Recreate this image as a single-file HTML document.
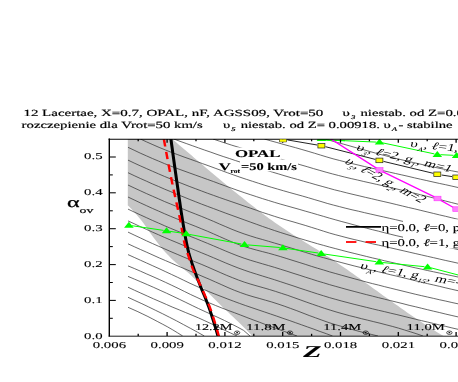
<!DOCTYPE html><html><head><meta charset="utf-8"><title>plot</title><style>html,body{margin:0;padding:0;background:#fff}svg{display:block}text{font-family:"Liberation Serif",serif;fill:#000;stroke:#000;stroke-width:0.1px;text-rendering:geometricPrecision}.tt{stroke-width:0.18px}.nl{stroke:none}.sb{stroke-width:0.15px}.sa{stroke-width:0.28px}</style></head><body>
<svg width="458" height="382" viewBox="0 0 458 382">
<rect width="458" height="382" fill="#fff"/>
<g opacity="0.999">
<defs><clipPath id="pc"><rect x="109.3" y="139.0" width="350.7" height="197.0"/></clipPath></defs>
<g clip-path="url(#pc)">
<polygon fill="#c6c6c6" points="127.8,130.0 167.1,134.6 170.1,137.2 173.1,139.7 176.1,142.3 179.1,144.9 182.1,147.4 185.1,150.0 188.1,152.6 191.1,155.1 194.1,157.7 197.1,160.2 200.1,162.8 203.1,165.3 206.1,167.9 209.1,170.4 212.1,172.9 215.1,175.5 218.1,178.0 221.1,180.5 224.1,183.0 227.1,185.4 230.1,187.9 233.1,190.4 236.1,192.8 239.1,195.2 242.1,197.6 245.1,200.0 248.1,202.4 251.1,204.7 254.1,207.1 257.1,209.4 260.1,211.7 263.1,213.9 266.1,216.2 269.1,218.4 272.1,220.5 275.1,222.7 278.1,224.8 281.1,226.8 284.1,228.8 287.1,230.8 290.1,232.8 293.1,234.7 296.1,236.6 299.1,238.4 302.1,240.3 305.1,242.2 308.1,244.0 311.1,245.9 314.1,247.7 317.1,249.6 320.1,251.5 323.1,253.4 326.1,255.4 329.1,257.3 332.1,259.3 335.1,261.3 338.1,263.4 341.1,265.4 344.1,267.5 347.1,269.6 350.1,271.7 353.1,273.8 356.1,275.9 359.1,278.1 362.1,280.2 365.1,282.4 368.1,284.5 371.1,286.7 374.1,288.9 377.1,291.0 380.1,293.2 383.1,295.4 386.1,297.5 389.1,299.7 392.1,301.8 395.1,304.0 398.1,306.1 401.1,308.2 404.1,310.3 407.1,312.4 410.1,314.5 413.1,316.6 416.1,318.6 419.1,320.6 422.1,322.6 425.1,324.6 428.1,326.5 431.1,328.4 434.1,330.3 437.1,332.2 440.1,334.0 443.1,335.8 446.1,337.5 449.1,339.2 452.1,340.9 455.1,342.5 263.5,346.5 261.0,344.1 258.5,341.7 256.0,339.3 253.5,336.9 251.0,334.4 248.5,331.9 246.0,329.4 243.5,326.9 241.0,324.5 238.5,322.1 236.0,319.7 233.5,317.3 231.0,315.0 228.5,312.6 226.0,310.2 223.5,307.9 221.0,305.4 218.5,303.0 216.0,300.5 213.5,298.0 211.0,295.5 208.5,293.0 206.0,290.4 203.5,287.9 201.0,285.4 198.5,282.8 196.0,280.2 193.5,277.7 191.0,275.3 188.5,273.0 186.0,270.9 183.5,268.9 181.0,266.8 178.5,264.8 176.0,262.7 173.5,260.5 171.0,258.2 168.5,255.6 166.0,253.0 163.5,250.2 161.0,247.2 158.5,244.1 156.0,240.8 153.5,237.4 151.0,234.0 148.5,230.4 146.0,226.8 143.5,223.2 141.0,219.9 138.5,216.9 136.0,214.0 133.5,211.2 131.0,208.5 128.5,206.1 127.8,205.4"/>
<g fill="none" stroke="#303030" stroke-width="0.72">
<path d="M324.7,139.0 L331.0,140.7 L337.4,142.5 L343.7,144.2 L350.1,146.0 L356.4,147.8 L362.8,149.5 L369.1,151.3 L375.5,153.1 L381.8,154.8 L388.2,156.4 L394.5,158.1 L400.9,159.6 L407.2,161.1 L413.6,162.6 L419.9,164.0 L426.3,165.5 L432.6,166.8 L439.0,168.2 L445.3,169.5 L451.7,170.8 L458.0,172.0"/>
<path d="M264.4,139.0 L270.6,140.8 L276.9,142.5 L283.1,144.3 L289.4,146.0 L295.6,147.7 L301.9,149.5 L308.1,151.3 L314.4,153.2 L320.6,155.1 L326.9,157.0 L333.1,158.8 L339.3,160.4 L345.6,162.0 L351.8,163.5 L358.1,165.0 L364.3,166.5 L370.6,167.9 L376.8,169.3 L383.1,170.7 L389.3,172.1 L395.5,173.5 L401.8,174.9 L408.0,176.3 L414.3,177.8 L420.5,179.2 L426.8,180.6 L433.0,182.0 L439.3,183.4 L445.5,184.7 L451.8,186.1 L458.0,187.5"/>
<path d="M213.0,139.0 L219.3,141.1 L225.6,143.2 L231.8,145.2 L238.1,147.1 L244.4,149.0 L250.7,150.8 L257.0,152.6 L263.3,154.3 L269.5,156.0 L275.8,157.7 L282.1,159.5 L288.4,161.3 L294.7,163.1 L300.9,164.9 L307.2,166.7 L313.5,168.6 L319.8,170.4 L326.1,172.2 L332.4,173.9 L338.6,175.5 L344.9,177.1 L351.2,178.6 L357.5,180.0 L363.8,181.5 L370.1,182.9 L376.3,184.3 L382.6,185.7 L388.9,187.1 L395.2,188.6 L401.5,190.1 L407.7,191.6 L414.0,193.1 L420.3,194.7 L426.6,196.2 L432.9,197.8 L439.2,199.4 L445.4,201.0 L451.7,202.6 L458.0,204.2"/>
<path d="M173.8,139.0 L180.0,141.3 L186.2,143.5 L192.3,145.7 L198.5,147.9 L204.7,150.1 L210.9,152.2 L217.0,154.4 L223.2,156.5 L229.4,158.5 L235.6,160.6 L241.8,162.6 L247.9,164.6 L254.1,166.5 L260.3,168.4 L266.5,170.3 L272.7,172.2 L278.8,174.0 L285.0,175.9 L291.2,177.7 L297.4,179.4 L303.5,181.2 L309.7,182.9 L315.9,184.7 L322.1,186.4 L328.3,188.1 L334.4,189.8 L340.6,191.3 L346.8,192.9 L353.0,194.4 L359.1,195.8 L365.3,197.3 L371.5,198.7 L377.7,200.2 L383.9,201.6 L390.0,203.0 L396.2,204.5 L402.4,206.0 L408.6,207.5 L414.8,208.9 L420.9,210.4 L427.1,211.9 L433.3,213.4 L439.5,214.9 L445.6,216.3 L451.8,217.8 L458.0,219.3"/>
<path d="M140.4,139.0 L146.6,141.9 L152.9,144.7 L159.1,147.4 L165.3,149.9 L171.5,152.4 L177.8,154.7 L184.0,157.0 L190.2,159.2 L196.4,161.4 L202.7,163.7 L208.9,165.9 L215.1,168.2 L221.4,170.5 L227.6,172.8 L233.8,175.0 L240.0,177.2 L246.3,179.3 L252.5,181.3 L258.7,183.3 L264.9,185.3 L271.2,187.2 L277.4,189.0 L283.6,190.8 L289.9,192.6 L296.1,194.3 L302.3,196.0 L308.5,197.8 L314.8,199.7 L321.0,201.5 L327.2,203.4 L333.5,205.1 L339.7,206.7 L345.9,208.3 L352.1,209.8 L358.4,211.2 L364.6,212.7 L370.8,214.1 L377.0,215.5 L383.3,216.9 L389.5,218.3 L395.7,219.7 L402.0,221.2 L408.2,222.6 L414.4,224.1 L420.6,225.6 L426.9,227.1 L433.1,228.5 L439.3,230.0 L445.5,231.5 L451.8,233.0 L458.0,234.5"/>
<path d="M128.0,147.3 L134.1,150.2 L140.2,153.1 L146.3,155.8 L152.4,158.5 L158.6,161.1 L164.7,163.7 L170.8,166.1 L176.9,168.4 L183.0,170.6 L189.1,172.8 L195.2,175.0 L201.3,177.2 L207.4,179.4 L213.6,181.6 L219.7,183.9 L225.8,186.1 L231.9,188.3 L238.0,190.5 L244.1,192.6 L250.2,194.6 L256.3,196.6 L262.4,198.6 L268.6,200.5 L274.7,202.4 L280.8,204.2 L286.9,205.9 L293.0,207.6 L299.1,209.3 L305.2,211.1 L311.3,212.8 L317.4,214.6 L323.6,216.4 L329.7,218.2 L335.8,219.9 L341.9,221.6 L348.0,223.2 L354.1,224.9 L360.2,226.5 L366.3,228.1 L372.4,229.7 L378.6,231.2 L384.7,232.8 L390.8,234.3 L396.9,235.8 L403.0,237.2 L409.1,238.7 L415.2,240.1 L421.3,241.5 L427.4,242.9 L433.6,244.2 L439.7,245.6 L445.8,246.9 L451.9,248.2 L458.0,249.5"/>
<path d="M128.0,160.1 L134.1,163.0 L140.2,165.8 L146.3,168.5 L152.4,171.2 L158.6,173.9 L164.7,176.5 L170.8,179.0 L176.9,181.5 L183.0,183.9 L189.1,186.3 L195.2,188.6 L201.3,190.9 L207.4,193.2 L213.6,195.4 L219.7,197.6 L225.8,199.7 L231.9,201.8 L238.0,203.9 L244.1,206.0 L250.2,208.1 L256.3,210.2 L262.4,212.4 L268.6,214.4 L274.7,216.4 L280.8,218.3 L286.9,220.1 L293.0,221.8 L299.1,223.6 L305.2,225.4 L311.3,227.3 L317.4,229.2 L323.6,231.2 L329.7,233.1 L335.8,234.8 L341.9,236.4 L348.0,238.0 L354.1,239.5 L360.2,240.9 L366.3,242.4 L372.4,243.8 L378.6,245.1 L384.7,246.5 L390.8,247.9 L396.9,249.3 L403.0,250.7 L409.1,252.1 L415.2,253.5 L421.3,254.9 L427.4,256.3 L433.6,257.7 L439.7,259.1 L445.8,260.5 L451.9,261.8 L458.0,263.2"/>
<path d="M128.0,172.7 L134.1,175.6 L140.2,178.4 L146.3,181.1 L152.4,183.9 L158.6,186.5 L164.7,189.2 L170.8,191.7 L176.9,194.3 L183.0,196.7 L189.1,199.2 L195.2,201.6 L201.3,204.0 L207.4,206.3 L213.6,208.6 L219.7,210.9 L225.8,213.2 L231.9,215.4 L238.0,217.6 L244.1,219.8 L250.2,222.0 L256.3,224.2 L262.4,226.4 L268.6,228.5 L274.7,230.6 L280.8,232.6 L286.9,234.5 L293.0,236.4 L299.1,238.3 L305.2,240.1 L311.3,241.9 L317.4,243.7 L323.6,245.4 L329.7,247.1 L335.8,248.7 L341.9,250.3 L348.0,251.9 L354.1,253.4 L360.2,254.9 L366.3,256.4 L372.4,257.9 L378.6,259.3 L384.7,260.8 L390.8,262.2 L396.9,263.6 L403.0,265.0 L409.1,266.4 L415.2,267.8 L421.3,269.1 L427.4,270.5 L433.6,271.8 L439.7,273.1 L445.8,274.4 L451.9,275.7 L458.0,277.0"/>
<path d="M128.0,185.0 L134.1,187.9 L140.2,190.7 L146.3,193.5 L152.4,196.2 L158.6,198.9 L164.7,201.6 L170.8,204.1 L176.9,206.6 L183.0,209.0 L189.1,211.5 L195.2,213.9 L201.3,216.3 L207.4,218.8 L213.6,221.4 L219.7,224.1 L225.8,226.7 L231.9,229.3 L238.0,231.7 L244.1,233.9 L250.2,235.9 L256.3,237.8 L262.4,239.5 L268.6,241.3 L274.7,243.1 L280.8,244.9 L286.9,246.8 L293.0,248.6 L299.1,250.5 L305.2,252.3 L311.3,254.2 L317.4,256.0 L323.6,257.7 L329.7,259.4 L335.8,261.1 L341.9,262.7 L348.0,264.3 L354.1,265.9 L360.2,267.4 L366.3,268.9 L372.4,270.4 L378.6,271.8 L384.7,273.3 L390.8,274.8 L396.9,276.2 L403.0,277.7 L409.1,279.2 L415.2,280.7 L421.3,282.1 L427.4,283.6 L433.6,285.0 L439.7,286.4 L445.8,287.9 L451.9,289.3 L458.0,290.7"/>
<path d="M128.0,197.0 L134.1,199.9 L140.2,202.8 L146.3,205.6 L152.4,208.4 L158.6,211.1 L164.7,213.8 L170.8,216.4 L176.9,218.9 L183.0,221.3 L189.1,223.8 L195.2,226.2 L201.3,228.7 L207.4,231.2 L213.6,233.9 L219.7,236.6 L225.8,239.3 L231.9,241.9 L238.0,244.3 L244.1,246.5 L250.2,248.3 L256.3,250.0 L262.4,251.6 L268.6,253.2 L274.7,254.9 L280.8,256.7 L286.9,258.6 L293.0,260.5 L299.1,262.4 L305.2,264.3 L311.3,266.3 L317.4,268.2 L323.6,270.0 L329.7,271.9 L335.8,273.6 L341.9,275.3 L348.0,277.0 L354.1,278.7 L360.2,280.3 L366.3,282.0 L372.4,283.6 L378.6,285.1 L384.7,286.7 L390.8,288.2 L396.9,289.7 L403.0,291.2 L409.1,292.7 L415.2,294.2 L421.3,295.6 L427.4,297.0 L433.6,298.4 L439.7,299.8 L445.8,301.1 L451.9,302.5 L458.0,303.8"/>
<path d="M128.0,209.1 L134.1,212.0 L140.2,214.8 L146.3,217.6 L152.4,220.4 L158.6,223.1 L164.7,225.8 L170.8,228.4 L176.9,230.9 L183.0,233.4 L189.1,235.9 L195.2,238.3 L201.3,240.8 L207.4,243.3 L213.6,245.9 L219.7,248.5 L225.8,251.1 L231.9,253.6 L238.0,256.0 L244.1,258.2 L250.2,260.2 L256.3,262.0 L262.4,263.8 L268.6,265.6 L274.7,267.4 L280.8,269.3 L286.9,271.2 L293.0,273.2 L299.1,275.1 L305.2,277.1 L311.3,279.0 L317.4,281.0 L323.6,282.8 L329.7,284.7 L335.8,286.4 L341.9,288.1 L348.0,289.8 L354.1,291.4 L360.2,293.0 L366.3,294.6 L372.4,296.1 L378.6,297.7 L384.7,299.2 L390.8,300.7 L396.9,302.2 L403.0,303.7 L409.1,305.3 L415.2,306.7 L421.3,308.2 L427.4,309.7 L433.6,311.2 L439.7,312.6 L445.8,314.1 L451.9,315.5 L458.0,316.9"/>
<path d="M128.0,220.9 L134.1,223.7 L140.2,226.6 L146.3,229.3 L152.4,232.1 L158.6,234.8 L164.7,237.5 L170.8,240.1 L176.9,242.6 L183.0,245.2 L189.1,247.7 L195.2,250.2 L201.3,252.7 L207.4,255.2 L213.6,257.8 L219.7,260.4 L225.8,263.0 L231.9,265.5 L238.0,267.9 L244.1,270.1 L250.2,272.2 L256.3,274.1 L262.4,276.0 L268.6,277.9 L274.7,279.8 L280.8,281.8 L286.9,283.8 L293.0,285.8 L299.1,287.9 L305.2,289.9 L311.3,291.9 L317.4,293.9 L323.6,295.8 L329.7,297.7 L335.8,299.4 L341.9,301.1 L348.0,302.7 L354.1,304.3 L360.2,305.8 L366.3,307.3 L372.4,308.8 L378.6,310.3 L384.7,311.7 L390.8,313.2 L396.9,314.6 L403.0,316.1 L409.1,317.6 L415.2,319.1 L421.3,320.6 L427.4,322.0 L433.6,323.5 L439.7,325.0 L445.8,326.4 L451.9,327.9 L458.0,329.3"/>
<path d="M128.0,232.1 L134.1,235.0 L140.3,237.9 L146.4,240.8 L152.6,243.6 L158.7,246.3 L164.9,249.0 L171.0,251.7 L177.2,254.3 L183.3,256.9 L189.5,259.5 L195.6,262.0 L201.8,264.5 L207.9,267.1 L214.0,269.8 L220.2,272.5 L226.3,275.2 L232.5,277.7 L238.6,280.1 L244.8,282.3 L250.9,284.2 L257.1,286.0 L263.2,287.7 L269.4,289.5 L275.5,291.4 L281.6,293.4 L287.8,295.4 L293.9,297.6 L300.1,299.8 L306.2,302.0 L312.4,304.2 L318.5,306.3 L324.7,308.4 L330.8,310.3 L337.0,312.2 L343.1,313.9 L349.2,315.6 L355.4,317.1 L361.5,318.7 L367.7,320.2 L373.8,321.7 L380.0,323.2 L386.1,324.8 L392.3,326.4 L398.4,328.1 L404.6,330.0 L410.7,331.9 L416.9,333.9 L423.0,336.0"/>
<path d="M128.0,243.8 L134.2,246.7 L140.5,249.5 L146.8,252.3 L153.0,255.1 L159.2,257.9 L165.5,260.6 L171.8,263.3 L178.0,266.0 L184.2,268.6 L190.5,271.3 L196.8,273.9 L203.0,276.6 L209.2,279.2 L215.5,282.0 L221.8,284.8 L228.0,287.6 L234.2,290.2 L240.5,292.6 L246.8,294.8 L253.0,296.7 L259.2,298.4 L265.5,300.2 L271.8,302.0 L278.0,304.0 L284.2,306.1 L290.5,308.4 L296.8,310.7 L303.0,313.1 L309.2,315.5 L315.5,317.8 L321.8,320.1 L328.0,322.3 L334.2,324.3 L340.5,326.1 L346.8,328.0 L353.0,329.7 L359.2,331.4 L365.5,333.0 L371.8,334.5 L378.0,336.0"/>
<path d="M128.0,254.6 L134.2,257.4 L140.4,260.2 L146.6,263.0 L152.8,265.8 L159.0,268.6 L165.2,271.5 L171.4,274.4 L177.6,277.3 L183.8,280.3 L190.0,283.3 L196.2,286.1 L202.4,288.9 L208.6,291.5 L214.8,294.0 L221.0,296.4 L227.2,298.8 L233.3,301.1 L239.5,303.4 L245.7,305.6 L251.9,307.7 L258.1,309.8 L264.3,311.9 L270.5,314.0 L276.7,316.1 L282.9,318.3 L289.1,320.4 L295.3,322.6 L301.5,324.8 L307.7,327.0 L313.9,329.2 L320.1,331.5 L326.3,333.7 L332.5,336.0"/>
<path d="M128.0,265.9 L134.3,268.5 L140.5,271.2 L146.8,274.0 L153.0,276.7 L159.3,279.5 L165.6,282.4 L171.8,285.3 L178.1,288.3 L184.3,291.4 L190.6,294.5 L196.9,297.4 L203.1,300.3 L209.4,302.9 L215.6,305.5 L221.9,308.0 L228.1,310.4 L234.4,312.7 L240.7,315.1 L246.9,317.5 L253.2,319.9 L259.4,322.2 L265.7,324.6 L272.0,326.9 L278.2,329.2 L284.5,331.5 L290.7,333.7 L297.0,336.0"/>
<path d="M128.0,276.4 L134.4,279.1 L140.8,281.8 L147.3,284.6 L153.7,287.4 L160.1,290.3 L166.5,293.2 L172.9,296.2 L179.4,299.3 L185.8,302.4 L192.2,305.5 L198.6,308.6 L205.1,311.6 L211.5,314.5 L217.9,317.4 L224.3,320.4 L230.7,323.6 L237.2,326.9 L243.6,330.4 L250.0,336.0"/>
<path d="M128.0,287.2 L134.4,290.2 L140.8,293.1 L147.2,296.0 L153.6,298.9 L160.1,301.7 L166.5,304.5 L172.9,307.3 L179.3,309.9 L185.7,312.6 L192.1,315.2 L198.5,317.9 L204.9,320.8 L211.4,323.8 L217.8,327.0 L224.2,330.0 L230.6,333.0 L237.0,336.0"/>
<path d="M128.0,297.3 L134.9,300.5 L141.9,303.7 L148.8,307.0 L155.7,310.4 L162.7,313.8 L169.6,317.3 L176.6,320.9 L183.5,324.6 L190.4,328.3 L197.4,332.1 L204.3,336.0"/>
<path d="M128.0,307.3 L133.0,309.5 L137.9,311.7 L142.9,314.1 L147.9,316.5 L152.9,319.1 L157.8,321.7 L162.8,324.3 L167.8,327.0 L172.8,329.9 L177.7,332.9 L182.7,336.0"/>
</g>
<rect x="234.5" y="147.5" width="47" height="12" fill="#fff"/>
<rect x="240" y="159.5" width="58" height="11.8" fill="#fff"/>
<rect x="403" y="219.5" width="60" height="29" fill="#fff"/>
<g transform="scale(1.645,1)" fill="none">
<path stroke="#000" stroke-width="1.85" d="M103.83,138.0 L104.10,141.4 L104.38,144.8 L104.66,148.1 L104.93,151.5 L105.21,154.9 L105.50,158.3 L105.78,161.7 L106.07,165.1 L106.36,168.4 L106.65,171.8 L106.94,175.2 L107.23,178.6 L107.53,182.0 L107.82,185.3 L108.11,188.7 L108.40,192.1 L108.69,195.5 L108.99,198.9 L109.28,202.2 L109.58,205.6 L109.89,209.0 L110.20,212.4 L110.52,215.8 L110.84,219.2 L111.17,222.5 L111.52,225.9 L111.87,229.3 L112.22,232.7 L112.59,236.1 L112.97,239.4 L113.37,242.8 L113.80,246.2 L114.26,249.6 L114.77,253.0 L115.35,256.3 L115.99,259.7 L116.67,263.1 L117.38,266.5 L118.11,269.9 L118.85,273.3 L119.59,276.6 L120.36,280.0 L121.16,283.4 L121.99,286.8 L122.84,290.2 L123.69,293.5 L124.54,296.9 L125.37,300.3 L126.17,303.7 L126.93,307.1 L127.64,310.4 L128.34,313.8 L129.01,317.2 L129.67,320.6 L130.31,324.0 L130.94,327.4 L131.54,330.7 L132.14,334.1 L132.71,337.5"/>
<path stroke="#ff0000" stroke-width="1.5" d="M99.63,139.1 L99.79,140.6 L99.95,142.1 L100.10,143.5 L100.26,145.0 L100.43,146.5"/>
<path stroke="#ff0000" stroke-width="1.5" d="M101.01,151.8 L101.17,153.2 L101.34,154.7 L101.51,156.2 L101.67,157.7 L101.84,159.2"/>
<path stroke="#ff0000" stroke-width="1.5" d="M102.45,164.4 L102.62,165.9 L102.80,167.4 L102.97,168.9 L103.15,170.3 L103.32,171.8"/>
<path stroke="#ff0000" stroke-width="1.5" d="M103.96,177.1 L104.14,178.6 L104.32,180.0 L104.50,181.5 L104.68,183.0 L104.86,184.5"/>
<path stroke="#ff0000" stroke-width="1.5" d="M105.53,189.7 L105.73,191.2 L105.92,192.7 L106.12,194.2 L106.32,195.7 L106.52,197.1"/>
<path stroke="#ff0000" stroke-width="1.5" d="M107.24,202.4 L107.44,203.9 L107.64,205.4 L107.85,206.8 L108.04,208.3 L108.24,209.8"/>
<path stroke="#ff0000" stroke-width="1.5" d="M108.93,215.1 L109.12,216.5 L109.30,218.0 L109.48,219.5 L109.66,221.0 L109.82,222.5"/>
<path stroke="#ff0000" stroke-width="1.5" d="M110.38,227.7 L110.53,229.2 L110.69,230.7 L110.84,232.2 L111.00,233.6 L111.16,235.1"/>
<path stroke="#ff0000" stroke-width="1.5" d="M111.78,240.4 L111.98,241.9 L112.18,243.3 L112.40,244.8 L112.65,246.3 L112.91,247.8"/>
<path stroke="#ff0000" stroke-width="1.5" d="M113.96,253.0 L114.27,254.5 L114.57,256.0 L114.87,257.5 L115.16,259.0 L115.44,260.4"/>
<path stroke="#ff0000" stroke-width="1.5" d="M116.48,265.7 L116.80,267.2 L117.13,268.7 L117.48,270.1 L117.87,271.6 L118.29,273.1"/>
<path stroke="#ff0000" stroke-width="1.5" d="M119.88,278.4 L120.30,279.8 L120.71,281.3 L121.13,282.8 L121.55,284.3 L121.96,285.8"/>
<path stroke="#ff0000" stroke-width="1.5" d="M123.43,291.0 L123.83,292.5 L124.24,294.0 L124.63,295.5 L125.03,296.9 L125.41,298.4"/>
<path stroke="#ff0000" stroke-width="1.5" d="M126.73,303.7 L127.08,305.2 L127.43,306.6 L127.76,308.1 L128.08,309.6 L128.40,311.1"/>
<path stroke="#ff0000" stroke-width="1.5" d="M129.47,316.3 L129.76,317.8 L130.04,319.3 L130.32,320.8 L130.59,322.3 L130.87,323.7"/>
<path stroke="#ff0000" stroke-width="1.5" d="M131.80,329.0 L132.06,330.5 L132.32,332.0 L132.57,333.4 L132.82,334.9 L133.08,336.4"/>
</g>
<path fill="none" stroke="#222" stroke-width="1" d="M287.3,139.9 L317.1,145.0 M325.5,146.7 L375.3,159.4 M383.5,161.4 L433.2,173.3 M441.6,175.0 L452.0,176.6 M460.5,178.1 L471.8,180.2"/>
<g fill="#ffff00" stroke="#222" stroke-width="0.7"><rect x="279.5" y="136.9" width="7.0" height="4.6"/><rect x="317.9" y="143.4" width="7.0" height="4.6"/><rect x="375.9" y="158.1" width="7.0" height="4.6"/><rect x="433.8" y="172.0" width="7.0" height="4.6"/><rect x="452.8" y="175.0" width="7.0" height="4.6"/><rect x="472.5" y="178.7" width="7.0" height="4.6"/></g>
<path fill="none" stroke="#00ff00" stroke-width="1.0" d="M324.5,139.8 L376.4,142.1 M382.4,142.8 L434.4,153.9 M440.4,154.7 L453.5,155.3 M459.7,155.7 L472.9,156.8"/>
<path fill="none" stroke="#00ff00" stroke-width="1.0" d="M317,139.75 L345,140.75"/>
<g fill="#00ff00"><polygon points="316.6,140.9 326.2,140.9 321.4,134.9"/><polygon points="374.7,144.6 384.3,144.6 379.5,138.6"/><polygon points="432.5,156.9 442.1,156.9 437.3,150.9"/><polygon points="451.8,157.9 461.4,157.9 456.6,151.9"/><polygon points="471.2,159.4 480.8,159.4 476.0,153.4"/></g>
<path fill="none" stroke="#00ff00" stroke-width="1.0" d="M131.9,225.7 L163.6,230.4 M169.6,231.3 L183.2,233.3 M189.2,234.4 L241.5,244.0 M247.6,244.9 L279.8,247.5 M285.9,248.3 L318.2,253.0 M324.2,254.0 L376.3,261.7 M382.4,262.5 L424.5,266.7 M430.5,267.7 L463.1,276.3"/>
<g fill="#00ff00"><polygon points="124.1,227.7 133.7,227.7 128.9,221.7"/><polygon points="161.8,233.2 171.4,233.2 166.6,227.2"/><polygon points="181.4,236.2 191.0,236.2 186.2,230.2"/><polygon points="239.7,247.0 249.3,247.0 244.5,241.0"/><polygon points="278.1,250.2 287.7,250.2 282.9,244.2"/><polygon points="316.4,255.9 326.0,255.9 321.2,249.9"/><polygon points="374.5,264.6 384.1,264.6 379.3,258.6"/><polygon points="422.8,269.4 432.4,269.4 427.6,263.4"/></g>
<path fill="none" stroke="#ff00ff" stroke-width="1.3" d="M323.7,134.4 L377.2,168.6 M382.1,171.3 L434.9,197.2 M439.9,199.9 L453.9,207.7 M458.7,210.4 L473.6,218.7"/>
<g fill="#ff7dff" stroke="#ff30ff" stroke-width="0.6"><rect x="317.9" y="130.7" width="7.0" height="4.6"/><rect x="376.0" y="167.7" width="7.0" height="4.6"/><rect x="434.0" y="196.2" width="7.0" height="4.6"/><rect x="452.8" y="206.8" width="7.0" height="4.6"/><rect x="472.5" y="217.7" width="7.0" height="4.6"/></g>
</g>
<line x1="346" y1="226.9" x2="381" y2="226.9" stroke="#000" stroke-width="1.9"/>
<line x1="346" y1="242" x2="356.4" y2="242" stroke="#f00" stroke-width="1.8"/>
<line x1="365.6" y1="242" x2="376" y2="242" stroke="#f00" stroke-width="1.8"/>
<g stroke="#000" fill="none">
<line x1="109.3" y1="138.4" x2="109.3" y2="336.6" stroke-width="1.4"/>
<line x1="108.6" y1="139.2" x2="458" y2="139.2" stroke-width="1.05"/>
<line x1="108.6" y1="336.2" x2="458" y2="336.2" stroke-width="0.9"/>
<line x1="109.3" y1="318.3" x2="112.8" y2="318.3" stroke-width="1.05"/>
<line x1="109.3" y1="300.4" x2="115.8" y2="300.4" stroke-width="1.05"/>
<line x1="109.3" y1="282.5" x2="112.8" y2="282.5" stroke-width="1.05"/>
<line x1="109.3" y1="264.6" x2="115.8" y2="264.6" stroke-width="1.05"/>
<line x1="109.3" y1="246.6" x2="112.8" y2="246.6" stroke-width="1.05"/>
<line x1="109.3" y1="228.7" x2="115.8" y2="228.7" stroke-width="1.05"/>
<line x1="109.3" y1="210.8" x2="112.8" y2="210.8" stroke-width="1.05"/>
<line x1="109.3" y1="192.8" x2="115.8" y2="192.8" stroke-width="1.05"/>
<line x1="109.3" y1="174.9" x2="112.8" y2="174.9" stroke-width="1.05"/>
<line x1="109.3" y1="157.0" x2="115.8" y2="157.0" stroke-width="1.05"/>
<line x1="138.2" y1="336" x2="138.2" y2="333.8" stroke-width="1.3"/>
<line x1="138.2" y1="139" x2="138.2" y2="141.3" stroke-width="1.3"/>
<line x1="167.1" y1="336" x2="167.1" y2="332.0" stroke-width="1.3"/>
<line x1="167.1" y1="139" x2="167.1" y2="142.7" stroke-width="1.3"/>
<line x1="196.0" y1="336" x2="196.0" y2="333.8" stroke-width="1.3"/>
<line x1="196.0" y1="139" x2="196.0" y2="141.3" stroke-width="1.3"/>
<line x1="224.9" y1="336" x2="224.9" y2="332.0" stroke-width="1.3"/>
<line x1="224.9" y1="139" x2="224.9" y2="142.7" stroke-width="1.3"/>
<line x1="253.8" y1="336" x2="253.8" y2="333.8" stroke-width="1.3"/>
<line x1="253.8" y1="139" x2="253.8" y2="141.3" stroke-width="1.3"/>
<line x1="282.7" y1="336" x2="282.7" y2="332.0" stroke-width="1.3"/>
<line x1="282.7" y1="139" x2="282.7" y2="142.7" stroke-width="1.3"/>
<line x1="311.6" y1="336" x2="311.6" y2="333.8" stroke-width="1.3"/>
<line x1="311.6" y1="139" x2="311.6" y2="141.3" stroke-width="1.3"/>
<line x1="340.5" y1="336" x2="340.5" y2="332.0" stroke-width="1.3"/>
<line x1="340.5" y1="139" x2="340.5" y2="142.7" stroke-width="1.3"/>
<line x1="369.4" y1="336" x2="369.4" y2="333.8" stroke-width="1.3"/>
<line x1="369.4" y1="139" x2="369.4" y2="141.3" stroke-width="1.3"/>
<line x1="398.3" y1="336" x2="398.3" y2="332.0" stroke-width="1.3"/>
<line x1="398.3" y1="139" x2="398.3" y2="142.7" stroke-width="1.3"/>
<line x1="427.2" y1="336" x2="427.2" y2="333.8" stroke-width="1.3"/>
<line x1="427.2" y1="139" x2="427.2" y2="141.3" stroke-width="1.3"/>
<line x1="456.1" y1="336" x2="456.1" y2="332.0" stroke-width="1.3"/>
<line x1="456.1" y1="139" x2="456.1" y2="142.7" stroke-width="1.3"/>
</g>
<rect x="279.5" y="139.4" width="7.0" height="2.6" fill="#ffff00"/><path d="M279.5,139.4 V142 H286.5 V139.4" fill="none" stroke="#444" stroke-width="0.5"/>
<text transform="translate(102.6,338.6) scale(1.645,1)" font-size="9.00" text-anchor="end" font-weight="normal" font-style="normal">0.0</text>
<text transform="translate(102.6,302.7) scale(1.645,1)" font-size="9.00" text-anchor="end" font-weight="normal" font-style="normal">0.1</text>
<text transform="translate(102.6,266.9) scale(1.645,1)" font-size="9.00" text-anchor="end" font-weight="normal" font-style="normal">0.2</text>
<text transform="translate(102.6,231.0) scale(1.645,1)" font-size="9.00" text-anchor="end" font-weight="normal" font-style="normal">0.3</text>
<text transform="translate(102.6,195.2) scale(1.645,1)" font-size="9.00" text-anchor="end" font-weight="normal" font-style="normal">0.4</text>
<text transform="translate(102.6,159.3) scale(1.645,1)" font-size="9.00" text-anchor="end" font-weight="normal" font-style="normal">0.5</text>
<text transform="translate(109.4,347.8) scale(1.645,1)" font-size="9.00" text-anchor="middle" font-weight="normal" font-style="normal">0.006</text>
<text transform="translate(167.2,347.8) scale(1.645,1)" font-size="9.00" text-anchor="middle" font-weight="normal" font-style="normal">0.009</text>
<text transform="translate(225.0,347.8) scale(1.645,1)" font-size="9.00" text-anchor="middle" font-weight="normal" font-style="normal">0.012</text>
<text transform="translate(282.8,347.8) scale(1.645,1)" font-size="9.00" text-anchor="middle" font-weight="normal" font-style="normal">0.015</text>
<text transform="translate(340.6,347.8) scale(1.645,1)" font-size="9.00" text-anchor="middle" font-weight="normal" font-style="normal">0.018</text>
<text transform="translate(398.4,347.8) scale(1.645,1)" font-size="9.00" text-anchor="middle" font-weight="normal" font-style="normal">0.021</text>
<text transform="translate(456.2,347.8) scale(1.645,1)" font-size="9.00" text-anchor="middle" font-weight="normal" font-style="normal">0.024</text>
<text transform="translate(303.3,357.3) scale(1.790,1)" font-size="16.60" text-anchor="start" font-weight="bold" font-style="italic">Z</text>
<text class="sa" transform="translate(66.9,207.0) scale(1.645,1)" font-size="14.60" text-anchor="start" font-weight="normal" font-style="normal">α</text>
<text class="sb" transform="translate(79.6,212.5) scale(1.645,1)" font-size="8.40" text-anchor="start" font-weight="normal" font-style="normal">ov</text>
<text class="tt" transform="translate(23.4,115.7) scale(1.596,1)" font-size="9.40" text-anchor="start" font-weight="normal" font-style="normal">12 Lacertae, X=0.7, OPAL, nF, AGSS09, Vrot=50</text>
<text class="tt" transform="translate(342.6,115.7) scale(1.575,1)" font-size="9.40" text-anchor="start" font-weight="normal" font-style="normal">υ<tspan font-size="5.6" dy="3.5" dx="0.7" font-style="italic">3</tspan><tspan dy="-3.5" dx="0.8" font-size="9.4"> niestab. od Z=0.009</tspan></text>
<text class="tt" transform="translate(21.6,127.5) scale(1.572,1)" font-size="9.40" text-anchor="start" font-weight="normal" font-style="normal">rozczepienie dla Vrot=50 km/s</text>
<text class="tt" transform="translate(223.0,127.5) scale(1.562,1)" font-size="9.40" text-anchor="start" font-weight="normal" font-style="normal">υ<tspan font-size="5.6" dy="3.5" dx="0.7" font-style="italic">5</tspan><tspan dy="-3.5" dx="0.8" font-size="9.4"> niestab. od Z= 0.00918. υ</tspan><tspan font-size="5.6" dy="3.5" dx="0.7" font-style="italic">A</tspan><tspan dy="-3.5" dx="0.8" font-size="9.4">- stabilne</tspan></text>
<text transform="translate(235.0,156.8) scale(1.620,1)" font-size="10.40" text-anchor="start" font-weight="bold" font-style="normal">OPAL</text>
<text transform="translate(218.6,169.5) scale(1.660,1)" font-size="10.40" text-anchor="start" font-weight="bold" font-style="normal">V</text>
<text transform="translate(230.6,172.7) scale(1.200,1)" font-size="6.30" text-anchor="start" font-weight="bold" font-style="normal">rot</text>
<text transform="translate(241.0,169.5) scale(1.390,1)" font-size="10.40" text-anchor="start" font-weight="bold" font-style="normal">=50 km/s</text>
<text x="194.9" y="330.1" font-size="9.00" text-anchor="start" font-weight="normal" font-style="normal" textLength="37.6" lengthAdjust="spacingAndGlyphs">12.2M</text>
<ellipse cx="237.1" cy="332.7" rx="2.7" ry="1.7" fill="none" stroke="#000" stroke-width="0.7"/><ellipse cx="237.1" cy="332.7" rx="1.0" ry="0.6" fill="#000"/>
<text x="246.0" y="330.1" font-size="9.00" text-anchor="start" font-weight="normal" font-style="normal" textLength="39.4" lengthAdjust="spacingAndGlyphs">11.8M</text>
<ellipse cx="290.0" cy="332.7" rx="2.7" ry="1.7" fill="none" stroke="#000" stroke-width="0.7"/><ellipse cx="290.0" cy="332.7" rx="1.0" ry="0.6" fill="#000"/>
<text x="323.3" y="330.1" font-size="9.00" text-anchor="start" font-weight="normal" font-style="normal" textLength="37.8" lengthAdjust="spacingAndGlyphs">11.4M</text>
<ellipse cx="365.7" cy="332.7" rx="2.7" ry="1.7" fill="none" stroke="#000" stroke-width="0.7"/><ellipse cx="365.7" cy="332.7" rx="1.0" ry="0.6" fill="#000"/>
<text x="406.6" y="330.1" font-size="9.00" text-anchor="start" font-weight="normal" font-style="normal" textLength="38.2" lengthAdjust="spacingAndGlyphs">11.0M</text>
<ellipse cx="449.4" cy="332.7" rx="2.7" ry="1.7" fill="none" stroke="#000" stroke-width="0.7"/><ellipse cx="449.4" cy="332.7" rx="1.0" ry="0.6" fill="#000"/>
<text transform="translate(381.4,230.9) scale(1.425,1)" font-size="10.40" text-anchor="start" font-weight="normal" font-style="normal">η=0.0, <tspan font-style="italic">ℓ</tspan>=0, p</text>
<text transform="translate(381.4,245.7) scale(1.425,1)" font-size="10.40" text-anchor="start" font-weight="normal" font-style="normal">η=0.0, <tspan font-style="italic">ℓ</tspan>=1, g</text>
<text class="nl" transform="translate(355.2,150.0) scale(1.645,1) rotate(21.0) scale(0.905,1)" font-size="10.50" text-anchor="start" font-weight="normal" font-style="normal">υ<tspan font-size="5.8" dy="3.4" dx="0.6" font-style="italic">3</tspan><tspan dy="-3.4">, <tspan font-style="italic">ℓ</tspan>=2, g</tspan><tspan font-size="5.8" dy="3.4" dx="0.6" font-style="italic">1</tspan><tspan dy="-3.4">, m=1</tspan></text>
<text class="nl" transform="translate(343.6,162.4) scale(1.645,1) rotate(41.0) scale(0.905,1)" font-size="10.60" text-anchor="start" font-weight="normal" font-style="normal">υ<tspan font-size="5.8" dy="3.4" dx="0.6" font-style="italic">5</tspan><tspan dy="-3.4">, <tspan font-style="italic">ℓ</tspan>=2, g</tspan><tspan font-size="5.8" dy="3.4" dx="0.6" font-style="italic">2</tspan><tspan dy="-3.4">, m=2</tspan></text>
<text class="nl" transform="translate(409.6,146.8) scale(1.645,1) rotate(9.5) scale(0.905,1)" font-size="10.50" text-anchor="start" font-weight="normal" font-style="normal">υ<tspan font-size="5.8" dy="3.4" dx="0.6" font-style="italic">A</tspan><tspan dy="-3.4">, <tspan font-style="italic">ℓ</tspan>=1, g</tspan></text>
<text class="nl" transform="translate(359.3,268.5) scale(1.645,1) rotate(16.0) scale(0.905,1)" font-size="10.50" text-anchor="start" font-weight="normal" font-style="normal">υ<tspan font-size="5.8" dy="3.4" dx="0.6" font-style="italic">A</tspan><tspan dy="-3.4">, <tspan font-style="italic">ℓ</tspan>=1, g</tspan><tspan font-size="5.8" dy="3.4" dx="0.6" font-style="italic">15</tspan><tspan dy="-3.4">, m=-1</tspan></text>
</g></svg></body></html>
